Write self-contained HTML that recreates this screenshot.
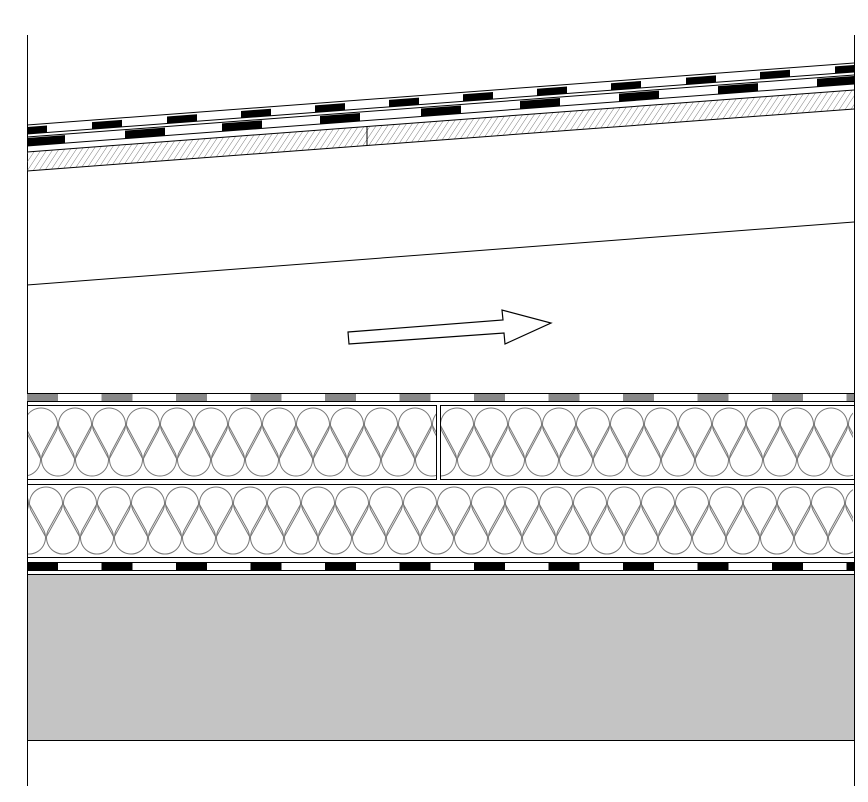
<!DOCTYPE html>
<html><head><meta charset="utf-8"><style>html,body{margin:0;padding:0;background:#fff}svg{display:block}</style></head>
<body>
<svg id="s" width="868" height="802" viewBox="0 0 868 802" xmlns="http://www.w3.org/2000/svg">
<defs>
<pattern id="h" patternUnits="userSpaceOnUse" width="5" height="5" patternTransform="rotate(35)">
<line x1="0" y1="0" x2="0" y2="5" stroke="#555" stroke-width="0.8"/>
</pattern>
<clipPath id="c1"><rect x="28" y="406" width="408" height="72"/></clipPath>
<clipPath id="c2"><rect x="441" y="406" width="412" height="72"/></clipPath>
<clipPath id="c3"><rect x="28" y="485" width="825" height="72"/></clipPath>
</defs>
<g stroke="#000" stroke-width="1" fill="none">
<line x1="27.5" y1="35" x2="27.5" y2="786"/>
<line x1="854.5" y1="35" x2="854.5" y2="786"/>
</g>
<g id="roof" transform="matrix(1,-0.075,0,1,0,2.025)"></g>
<line x1="27" y1="285" x2="854" y2="222" stroke="#000" stroke-width="1"/>
<polygon points="348,332 503,320 502,310 551,323 505,344 504,333 349,344" fill="#fff" stroke="#000" stroke-width="1.2"/>
<g id="low"></g>
<rect x="28" y="574" width="826" height="166" fill="#c4c4c4"/>
<g stroke="#000" stroke-width="1">
<line x1="27" y1="574.5" x2="854" y2="574.5"/>
<line x1="27" y1="740.5" x2="854" y2="740.5"/>
</g>
</svg>
<script>
var NS="http://www.w3.org/2000/svg";
function el(p,t,a){var e=document.createElementNS(NS,t);for(var k in a)e.setAttribute(k,a[k]);p.appendChild(e);return e;}
var roof=document.getElementById('roof');
el(roof,'rect',{x:27,y:152,width:827,height:19,fill:'url(#h)'});
var r1=[[27,47],[92,122],[167,197],[241,271],[315,345],[389,419],[463,493],[537,567],[611,641],[686,716],[760,790],[835,854]];
r1.forEach(function(a){el(roof,'rect',{x:a[0],y:127,width:a[1]-a[0],height:7,fill:'#000'});});
var r2=[[27,65],[125,165],[222,262],[320,360],[421,461],[520,560],[619,659],[718,758],[817,854]];
r2.forEach(function(a){el(roof,'rect',{x:a[0],y:138,width:a[1]-a[0],height:8,fill:'#000'});});
[125,134,137,146,152,171].forEach(function(y){el(roof,'line',{x1:27,y1:y,x2:854,y2:y,stroke:'#000','stroke-width':1});});
el(roof,'line',{x1:367,y1:152,x2:367,y2:171,stroke:'#000','stroke-width':1});
var low=document.getElementById('low');
for(var x=27;x<854;x+=74.5){el(low,'rect',{x:x,y:394,width:Math.min(31,854-x),height:7,fill:'#888'});}
for(var x=27;x<854;x+=74.5){el(low,'rect',{x:x,y:563,width:Math.min(31,854-x),height:7,fill:'#000'});}
[393.5,401.5,562.5,570.5,484.5,557.5].forEach(function(y){el(low,'line',{x1:27,y1:y,x2:854,y2:y,stroke:'#000','stroke-width':1});});
el(low,'rect',{x:27.5,y:405.5,width:409,height:74,fill:'none',stroke:'#000'});
el(low,'rect',{x:440.5,y:405.5,width:414,height:74,fill:'none',stroke:'#000'});
function drops(clip,x0,x1,top,bot){
 var p=34,r=16.5,ct=top+r,cb=bot-r,D=cb-ct;
 var sa=r/D,ca=Math.sqrt(1-sa*sa),d='';
 for(var cx=x0-p;cx<x1+p;cx+=p){
  // top teardrop, tip down
  d+='M'+cx+','+cb+' L'+(cx-r*ca)+','+(ct+r*sa)+' A'+r+' '+r+' 0 1 1 '+(cx+r*ca)+','+(ct+r*sa)+' Z ';
  var bx=cx+p/2;
  d+='M'+bx+','+ct+' L'+(bx-r*ca)+','+(cb-r*sa)+' A'+r+' '+r+' 0 1 0 '+(bx+r*ca)+','+(cb-r*sa)+' Z ';
 }
 el(low,'path',{d:d,fill:'none',stroke:'#777','stroke-width':1,'clip-path':'url(#'+clip+')'});
}
drops('c1',41,436,408,476);
drops('c2',457,853,408,476);
drops('c3',46,853,487,554);
</script>
</body></html>
